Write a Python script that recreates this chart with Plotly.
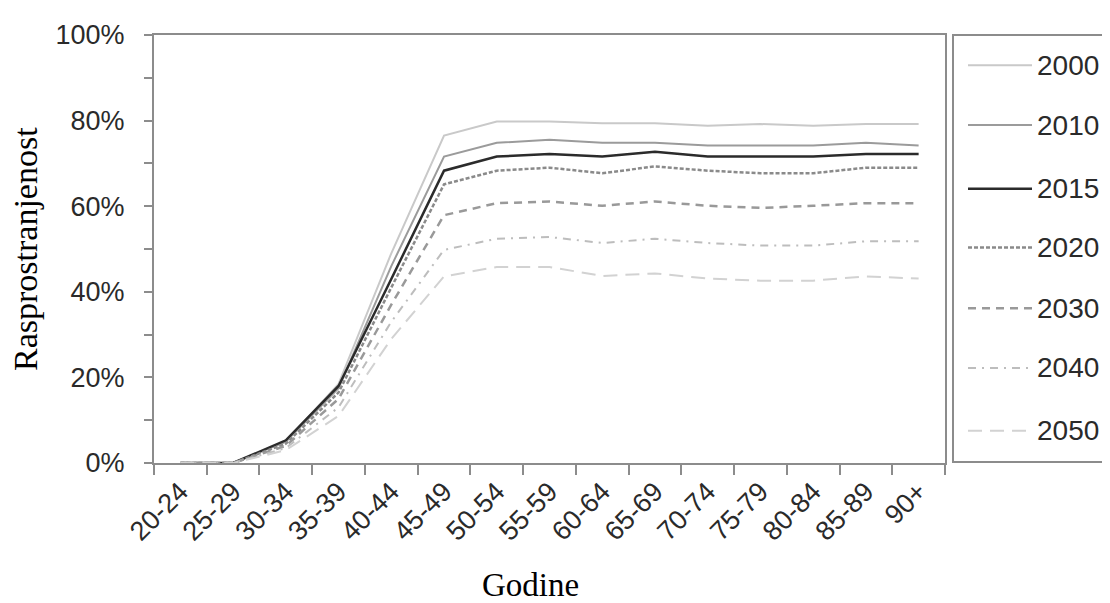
import plotly.graph_objects as go

# age groups on the x axis
age_groups = ["20-24", "25-29", "30-34", "35-39", "40-44", "45-49", "50-54", "55-59",
              "60-64", "65-69", "70-74", "75-79", "80-84", "85-89", "90+"]

# prevalence in % per year
years = ["2000", "2010", "2015", "2020", "2030", "2040", "2050"]
y2000 = [0, 0, 5.0, 18.5, 49, 76.5, 79.8, 79.8, 79.4, 79.4, 78.8, 79.2, 78.8, 79.2, 79.2]
y2010 = [0, 0, 5.0, 17.5, 46, 71.6, 74.8, 75.5, 74.8, 74.8, 74.2, 74.2, 74.2, 74.8, 74.2]
y2015 = [0, 0, 5.3, 18.0, 43, 68.3, 71.6, 72.2, 71.6, 72.7, 71.6, 71.6, 71.6, 72.2, 72.2]
y2020 = [0, 0, 4.5, 16.5, 41, 65.1, 68.3, 69.0, 67.7, 69.3, 68.3, 67.7, 67.7, 69.0, 69.0]
y2030 = [0, 0, 4.0, 15.0, 37, 57.9, 60.7, 61.1, 60.1, 61.1, 60.1, 59.6, 60.1, 60.7, 60.7]
y2040 = [0, 0, 3.5, 13.0, 33, 49.8, 52.4, 52.8, 51.4, 52.4, 51.4, 50.8, 50.8, 51.8, 51.8]
y2050 = [0, 0, 3.0, 11.0, 29, 43.6, 45.8, 45.8, 43.7, 44.3, 43.1, 42.6, 42.6, 43.6, 43.1]
series = [y2000, y2010, y2015, y2020, y2030, y2040, y2050]

# line styles per year
colors = ["#c9c9c9", "#9b9b9b", "#2b2b2b", "#8a8a8a", "#999999", "#bdbdbd", "#d2d2d2"]
widths = [2, 2, 2.5, 2.5, 2.5, 2, 2]
dashes = ["solid", "solid", "solid", "4px,2px", "8px,6px", "8px,6px,2px,6px", "14px,8px"]

W, H = 1110, 603
OFF = 8  # page body margin of the html page
L, R, T, B = 154, 945, 26, 463  # plot area on screen, pixels


def px(x):
    return (x - L) / (R - L)


def py(y):
    return (B - y) / (B - T)


fig = go.Figure()
for name, vals, c, w, d in zip(years, series, colors, widths, dashes):
    fig.add_trace(go.Scatter(
        x=age_groups, y=vals, mode="lines", name=name,
        line=dict(color=c, width=w, dash=d), showlegend=False
    ))

axis_col = "#8c8c8c"
sans = "Arial, Liberation Sans"
text_col = "#2a2a2a"

fig.update_layout(
    width=W, height=H,
    margin=dict(l=L - OFF, r=W - R + OFF, t=T - OFF, b=H - B + OFF),
    plot_bgcolor="white", paper_bgcolor="white",
    xaxis=dict(
        type="category", tickson="boundaries", ticks="outside", ticklen=10,
        tickcolor=axis_col, tickwidth=2, tickangle=-45,
        tickfont=dict(family=sans, size=27, color=text_col),
        showline=True, linecolor=axis_col, linewidth=2, mirror=True,
        showgrid=False, range=[-0.5, 14.5]
    ),
    yaxis=dict(
        range=[0, 100], dtick=20, ticksuffix="%", ticks="outside", ticklen=8,
        tickcolor=axis_col, tickwidth=2, ticklabelstandoff=14,
        tickfont=dict(family=sans, size=27, color=text_col),
        minor=dict(dtick=10, ticks="outside", ticklen=8, tickcolor=axis_col, tickwidth=2),
        showline=True, linecolor=axis_col, linewidth=2, mirror=True,
        showgrid=False, zeroline=False
    ),
)

# axis titles
serif = "Liberation Serif, Times New Roman, serif"
fig.add_annotation(text="Godine", xref="paper", yref="paper", x=px(530), y=py(588),
                   xanchor="center", yanchor="middle", showarrow=False,
                   font=dict(family=serif, size=33, color="black"))
fig.add_annotation(text="Rasprostranjenost", xref="paper", yref="paper", x=px(25), y=0.5,
                   xanchor="center", yanchor="middle", textangle=-90, showarrow=False,
                   font=dict(family=serif, size=34, color="black"))

# legend box drawn by hand
fig.add_shape(type="rect", xref="paper", yref="paper", x0=px(953), x1=px(1125),
              y0=py(462), y1=py(26), line=dict(color=axis_col, width=2), fillcolor="white")
legend_y = [57, 118, 183, 243, 305, 366, 430]
for name, c, w, d, ly in zip(years, colors, widths, dashes, legend_y):
    fig.add_shape(type="line", xref="paper", yref="paper", x0=px(968), x1=px(1032),
                  y0=py(ly), y1=py(ly), line=dict(color=c, width=w, dash=d))
    fig.add_annotation(text=name, xref="paper", yref="paper", x=px(1035), y=py(ly),
                       xanchor="left", yanchor="middle", showarrow=False,
                       font=dict(family=sans, size=28, color=text_col))

fig.write_html("out.html")
